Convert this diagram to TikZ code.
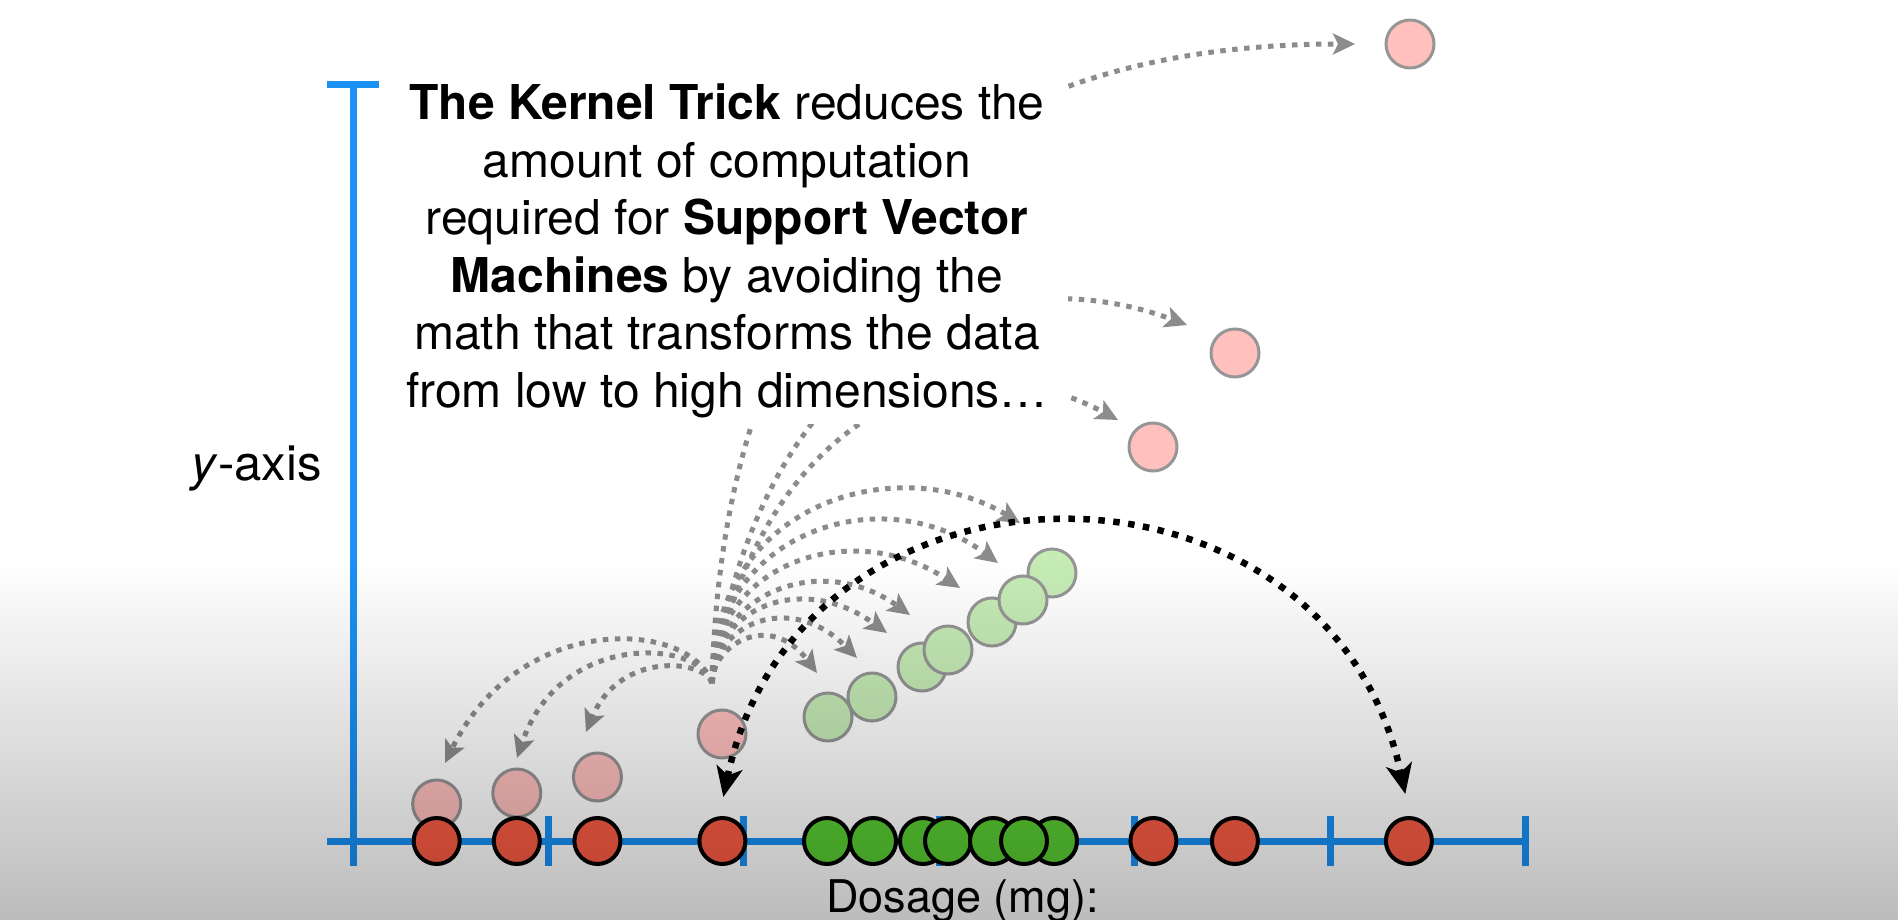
\documentclass[tikz,border=0pt]{standalone}
\usepackage{fontspec}
\setmainfont{TeX Gyre Heros}
\usetikzlibrary{arrows.meta}
\definecolor{axisblue}{RGB}{25,145,245}
\definecolor{axisred}{RGB}{250,92,68}
\definecolor{axisgreen}{RGB}{88,205,50}
\definecolor{liftpink}{RGB}{255,192,190}
\definecolor{liftgreenc}{RGB}{198,236,182}
\definecolor{liftgray}{RGB}{150,150,150}
\definecolor{arrowgray}{RGB}{140,140,140}
\definecolor{bgbottom}{RGB}{188,188,188}
\tikzset{
  axisline/.style={draw=axisblue, line width=7pt},
  axred/.style={circle, draw=black, line width=4pt, fill=axisred, minimum size=46pt, inner sep=0pt},
  axgreen/.style={circle, draw=black, line width=4pt, fill=axisgreen, minimum size=46pt, inner sep=0pt},
  liftred/.style={circle, draw=liftgray, line width=3pt, fill=liftpink, minimum size=48pt, inner sep=0pt},
  liftgreen/.style={circle, draw=liftgray, line width=3pt, fill=liftgreenc, minimum size=48pt, inner sep=0pt},
  grayarrow/.style={draw=arrowgray, line width=5pt, dash pattern=on 5.5pt off 6.5pt,
    -{Stealth[length=22pt, width=21pt, inset=5pt]}},
  blackarrow/.style={draw=black, line width=6.5pt, dash pattern=on 6.5pt off 8.5pt,
    {Stealth[length=30pt, width=26pt, inset=8pt]}-{Stealth[length=30pt, width=26pt, inset=8pt]}},
  bodytext/.style={font=\fontsize{48}{57}\selectfont, inner sep=0pt, anchor=base},
}
\begin{document}
\begin{tikzpicture}[x=1pt, y=-1pt]
\useasboundingbox (0,0) rectangle (1898,920);
\clip (0,0) rectangle (1898,920);
\fill[white] (0,0) rectangle (1898,920);

% ---- gray transformation arrows ----
\coordinate (src) at (712,683);
\coordinate (tg1) at (817,673);
\coordinate (tg2) at (857,658);
\coordinate (tg3) at (887,633);
\coordinate (tg4) at (910,615);
\coordinate (tg5) at (960,588);
\coordinate (tg6) at (998,563);
\coordinate (tg7) at (1020,523);
\coordinate (tl1) at (445,763);
\coordinate (tl2) at (517,758);
\coordinate (tl3) at (586,732);
\coordinate (tp1) at (1355,44);
\coordinate (tp2) at (1187,325);
\coordinate (tp3) at (1118,420);

\draw[grayarrow] (src) .. controls (725,200) and (1000,44) .. (tp1);
\draw[grayarrow] (src) .. controls (765,330) and (1000,255) .. (tp2);
\draw[grayarrow] (src) .. controls (760,420) and (950,330) .. (tp3);

\draw[grayarrow] (src) .. controls (712,500) and (900,450) .. (tg7);
\draw[grayarrow] (src) .. controls (712,535) and (880,475) .. (tg6);
\draw[grayarrow] (src) .. controls (712,565) and (850,515) .. (tg5);
\draw[grayarrow] (src) .. controls (712,595) and (820,550) .. (tg4);
\draw[grayarrow] (src) .. controls (712,610) and (800,570) .. (tg3);
\draw[grayarrow] (src) .. controls (712,625) and (790,590) .. (tg2);
\draw[grayarrow] (src) .. controls (712,645) and (770,610) .. (tg1);

\draw[grayarrow] (src) .. controls (690,620) and (520,610) .. (tl1);
\draw[grayarrow] (src) .. controls (700,640) and (560,630) .. (tl2);
\draw[grayarrow] (src) .. controls (705,660) and (620,650) .. (tl3);

% ---- text panel ----
\fill[white] (395,62) rectangle (1068,424);
\node[bodytext] (t1) at (727,120)   {\textbf{The Kernel Trick} reduces the};
\node[bodytext] (t2) at (727,177.4) {amount of computation};
\node[bodytext] (t3) at (727,234.8) {required for \textbf{Support Vector}};
\node[bodytext] (t4) at (727,292.2) {\textbf{Machines} by avoiding the};
\node[bodytext] (t5) at (727,349.6) {math that transforms the data};
\node[bodytext] (t6) at (727,407)   {from low to high dimensions…};

% ---- axes ----
\draw[axisline] (353,85) -- (353,866);
\draw[axisline] (327,85) -- (379,85);
\draw[axisline] (327,841) -- (1525.5,841);
\foreach \x in {548.5,743.9,939.3,1134.7,1330.1,1525.5}
  \draw[axisline] (\x,816) -- (\x,866);

% ---- lifted (transformed) points ----
\node[liftred] (lr1) at (436.7,804) {};
\node[liftred] (lr2) at (516.8,793) {};
\node[liftred] (lr3) at (597.4,777) {};
\node[liftred] (lr4) at (722,734) {};
\node[liftgreen] (lg1) at (828,717) {};
\node[liftgreen] (lg2) at (872,697) {};
\node[liftgreen] (lg3) at (922,667) {};
\node[liftgreen] (lg4) at (948,650) {};
\node[liftgreen] (lg5) at (992,622) {};
\node[liftgreen] (lg7) at (1052,573) {};
\node[liftgreen] (lg6) at (1023,600) {};
\node[liftred] (lr5) at (1153,447) {};
\node[liftred] (lr6) at (1235,353) {};
\node[liftred] (lr7) at (1410,44) {};

% ---- original points on the axis ----
\node[axred] (r1) at (436.7,841) {};
\node[axred] (r2) at (516.8,841) {};
\node[axred] (r3) at (597.4,841) {};
\node[axred] (r4) at (722.4,841) {};
\node[axgreen] (g1) at (827,841) {};
\node[axgreen] (g2) at (873,841) {};
\node[axgreen] (g3) at (923,841) {};
\node[axgreen] (g4) at (948,841) {};
\node[axgreen] (g5) at (993,841) {};
\node[axgreen] (g7) at (1054,841) {};
\node[axgreen] (g6) at (1024,841) {};
\node[axred] (r5) at (1153.4,841) {};
\node[axred] (r6) at (1234.9,841) {};
\node[axred] (r7) at (1408.9,841) {};

% ---- black double arrow ----
\coordinate (bl) at (723.3,797);
\coordinate (br) at (1405.3,794);
\draw[blackarrow] (bl) .. controls (800,433) and (1328,433) .. (br);

% ---- labels ----
\node[font=\fontsize{49}{58}\selectfont, inner sep=0pt, anchor=base east] (ylab) at (322,480) {\textit{y}-axis};
\node[font=\fontsize{45}{54}\selectfont, inner sep=0pt, anchor=base west] (xlab) at (826,912) {Dosage (mg):};

% ---- darkening gradient at the bottom ----
\begin{scope}[blend mode=multiply]
  \shade[top color=white, bottom color=bgbottom] (0,560) rectangle (1898,920);
\end{scope}
\end{tikzpicture}
\end{document}
